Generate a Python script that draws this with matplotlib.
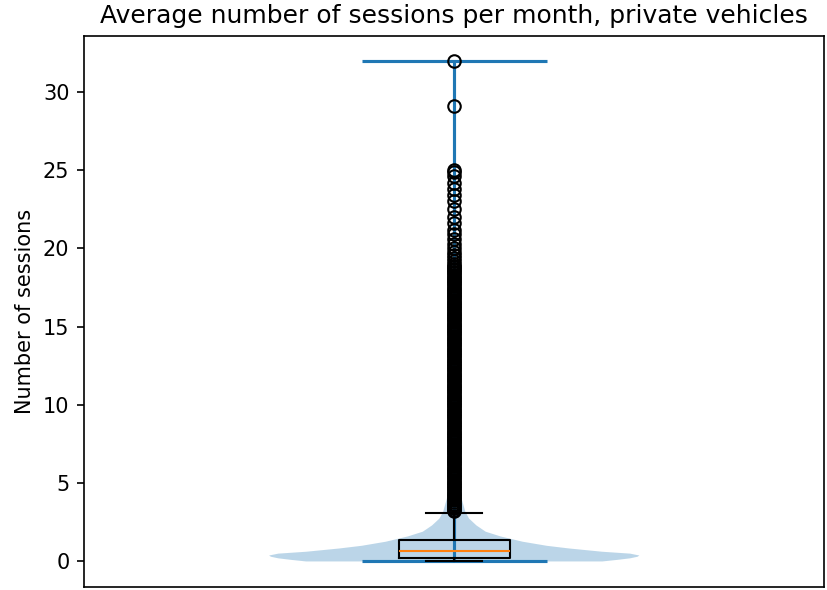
import matplotlib
matplotlib.use("Agg")
import matplotlib.pyplot as plt

# Box statistics (sessions per month)
q1 = 0.19
median = 0.66
q3 = 1.40
whisker_low = 0.0
whisker_high = 3.1

# Outliers above the upper whisker
outliers = [
    32.0, 29.1,
    25.0, 24.85, 24.6, 24.2, 23.8, 23.4, 23.0, 22.5, 22.0, 21.6,
    21.2, 20.9, 20.6, 20.3, 20.0, 19.8, 19.6, 19.4, 19.2,
    19.0, 18.9, 18.8, 18.7, 18.6, 18.5, 18.4, 18.3, 18.2, 18.1,
    18.0, 17.9, 17.8, 17.7, 17.6, 17.5, 17.4, 17.3, 17.2, 17.1,
    17.0, 16.9, 16.8, 16.7, 16.6, 16.5, 16.4, 16.3, 16.2, 16.1,
    16.0, 15.9, 15.8, 15.7, 15.6, 15.5, 15.4, 15.3, 15.2, 15.1,
    15.0, 14.9, 14.8, 14.7, 14.6, 14.5, 14.4, 14.3, 14.2, 14.1,
    14.0, 13.9, 13.8, 13.7, 13.6, 13.5, 13.4, 13.3, 13.2, 13.1,
    13.0, 12.9, 12.8, 12.7, 12.6, 12.5, 12.4, 12.3, 12.2, 12.1,
    12.0, 11.9, 11.8, 11.7, 11.6, 11.5, 11.4, 11.3, 11.2, 11.1,
    11.0, 10.9, 10.8, 10.7, 10.6, 10.5, 10.4, 10.3, 10.2, 10.1,
    10.0, 9.9, 9.8, 9.7, 9.6, 9.5, 9.4, 9.3, 9.2, 9.1,
    9.0, 8.9, 8.8, 8.7, 8.6, 8.5, 8.4, 8.3, 8.2, 8.1,
    8.0, 7.9, 7.8, 7.7, 7.6, 7.5, 7.4, 7.3, 7.2, 7.1,
    7.0, 6.9, 6.8, 6.7, 6.6, 6.5, 6.4, 6.3, 6.2, 6.1,
    6.0, 5.9, 5.8, 5.7, 5.6, 5.5, 5.4, 5.3, 5.2, 5.1,
    5.0, 4.9, 4.8, 4.7, 4.6, 4.5, 4.4, 4.3, 4.2, 4.1,
    4.0, 3.9, 3.8, 3.7, 3.6, 3.5, 3.4, 3.3, 3.2,
]

# Density profile of the distribution (value, relative density)
density_values = [0.0, 0.1, 0.2, 0.3, 0.38, 0.5, 0.62, 0.83, 1.0, 1.26,
                  1.6, 1.9, 2.3, 2.74, 3.17, 4.0, 5.0, 7.0, 10.0, 15.0,
                  20.0, 25.0, 29.0, 32.0]
density = [0.80, 0.88, 0.95, 0.99, 1.00, 0.95, 0.80, 0.62, 0.50, 0.37,
           0.25, 0.17, 0.12, 0.08, 0.06, 0.04, 0.03, 0.02, 0.012, 0.006,
           0.003, 0.002, 0.001, 0.0005]

fig = plt.figure(figsize=(828 / 150, 590 / 150), dpi=150)
ax = fig.add_axes([84 / 828, 3.5 / 590, 740.5 / 828, 551 / 590])

violin_stats = [{
    "coords": density_values,
    "vals": density,
    "mean": 1.0,
    "median": median,
    "min": min(density_values),
    "max": max(density_values),
}]
ax.violin(violin_stats, positions=[1], widths=0.5,
          showmeans=False, showextrema=True, showmedians=False)

box_stats = [{
    "med": median,
    "q1": q1,
    "q3": q3,
    "whislo": whisker_low,
    "whishi": whisker_high,
    "fliers": outliers,
}]
ax.bxp(box_stats, positions=[1])

ax.set_xlim(0.5, 1.5)
ax.set_ylim(-1.6, 33.6)
ax.set_xticks([])
ax.set_yticks([0, 5, 10, 15, 20, 25, 30])
ax.set_title("Average number of sessions per month, private vehicles", fontsize=12)
ax.set_ylabel("Number of sessions")

fig.savefig("out.png", dpi=150)
